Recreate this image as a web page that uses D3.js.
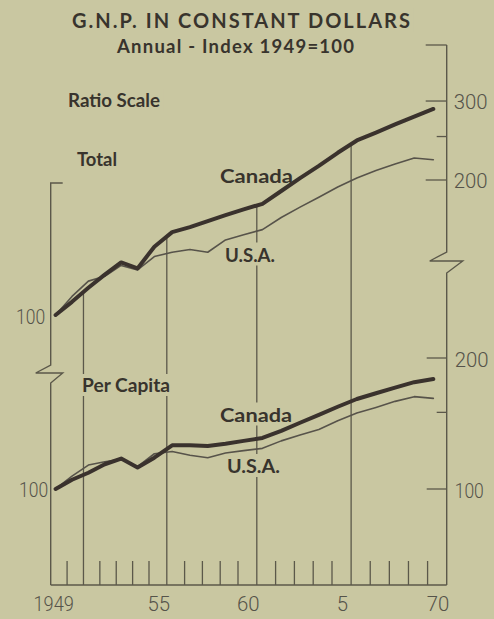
<!DOCTYPE html>
<html><head><meta charset="utf-8">
<script src="https://cdn.jsdelivr.net/npm/d3@7"></script>
<style>
html,body{margin:0;padding:0;background:#c9c7a1;}
svg{display:block}
</style>
</head><body>
<svg id="chart" width="494" height="619"></svg>
<script>
// ---------------- data ----------------
const years = d3.range(1949, 1971);
const canadaTotal     = [100,107,115,123,131,127,142,153,157,162,167,172,177,189,202,215,230,245,255,266,277,288];
const usaTotal        = [100,110,119,122,129,126,135,138,140,138,147,151,155,165,174,183,193,202,210,217,224,222];
const canadaPerCapita = [100,105,109,114,117.5,112,118,126,126,125.5,127,129,131,136,142,148,154.5,161,166,171,176,179];
const usaPerCapita    = [100,107,113.5,115.5,117,112.5,120.5,122,119.5,118,121,122.5,124,129,133,137,143.5,149.5,154,159,163,161.5];

const totalRightTicks = [400, 300, 250, 200];
const totalRightLabels = [300, 200];
const perCapitaRightTicks = [200, 150, 100];
const perCapitaRightLabels = [200, 100];
const leftLabelValue = 100;
const gridYears = [1951, 1956, 1961, 1966];
const tickYears = d3.range(1950, 1971);
const xLabelYears = [1949, 1955, 1960, 1965, 1970];
const xLabelTexts = ["1949", "55", "60", "5", "70"];

// ---------------- style ----------------
const BG = "#c9c7a1";
const INK = "#38342d";
const AXIS = "#5b584a";
const NUM = "#55534a";
const BOLD = "Lato, 'Open Sans', sans-serif";
const NUMF = "Roboto, 'Liberation Sans', sans-serif";

const svg = d3.select("#chart");
svg.append("rect").attr("width", 494).attr("height", 619).attr("fill", BG);

// ---------------- scales ----------------
const x = d3.scaleLinear().domain([1949, 1955, 1960, 1965, 1971]).range([50.7, 149, 238, 332, 446.7]);
const pos = 0.3; // position of an annual value inside its year
const yTop = d3.scaleLog().domain([100, 400]).range([315, 45]);
const yBot = d3.scaleLog().domain([100, 200]).range([489, 358]);

const xLeft = x(1949), xRight = x(1971);
const yBase = 585;

// ---------------- axes frame ----------------
const g = svg.append("g");
g.append("line").attr("x1", xLeft).attr("x2", xRight).attr("y1", yBase).attr("y2", yBase)
  .attr("stroke", AXIS).attr("stroke-width", 1.4);
g.selectAll(".xt").data(tickYears.filter(d => !gridYears.includes(d))).join("line")
  .attr("x1", d => x(d)).attr("x2", d => x(d)).attr("y1", yBase - 24).attr("y2", yBase)
  .attr("stroke", AXIS).attr("stroke-width", 1.3);

// vertical grid lines from Canada total line to base
const canadaTopY = d3.scaleLinear().domain(years.map(d => d + pos)).range(canadaTotal.map(v => yTop(v)));
g.selectAll(".grid").data(gridYears).join("line")
  .attr("x1", d => x(d)).attr("x2", d => x(d))
  .attr("y1", d => canadaTopY(d)).attr("y2", yBase)
  .attr("stroke", AXIS).attr("stroke-width", 1.3);

// right axis with break
const rBreakTop = 252, rBreakBot = 273;
g.append("path")
  .attr("d", `M${xRight},${yTop(400)} V${rBreakTop} L${xRight-17},${rBreakTop+9} H${xRight+16} L${xRight},${rBreakBot} V${yBase}`)
  .attr("fill", "none").attr("stroke", AXIS).attr("stroke-width", 1.4);
// left axis with break
const lBreakTop = 365, lBreakBot = 383;
g.append("path")
  .attr("d", `M${xLeft+12},${yTop(200)+3} H${xLeft} V${lBreakTop} L${xLeft-15},${lBreakTop+8} H${xLeft+12} L${xLeft},${lBreakBot} V${yBase}`)
  .attr("fill", "none").attr("stroke", AXIS).attr("stroke-width", 1.4);

// right ticks
const majorT = v => [100, 200, 300, 400].includes(v);
g.selectAll(".rtt").data(totalRightTicks).join("line")
  .attr("x1", d => xRight - (majorT(d) ? 21 : 10)).attr("x2", xRight)
  .attr("y1", d => yTop(d)).attr("y2", d => yTop(d))
  .attr("stroke", AXIS).attr("stroke-width", 1.3);
g.selectAll(".rbt").data(perCapitaRightTicks).join("line")
  .attr("x1", d => xRight - (majorT(d) ? 20 : 10)).attr("x2", xRight)
  .attr("y1", d => yBot(d)).attr("y2", d => yBot(d))
  .attr("stroke", AXIS).attr("stroke-width", 1.3);

// numeric labels: light, narrow figures
const digitW = ch => ch === "1" ? 6.5 : 11.3;
const numWidth = s => d3.sum(String(s).split(""), digitW);
function num(sel) {
  sel.attr("font-family", NUMF).attr("font-weight", 300).attr("font-size", 21).attr("fill", NUM)
    .attr("textLength", d => numWidth(d)).attr("lengthAdjust", "spacingAndGlyphs");
}
g.selectAll(".rtl").data(totalRightLabels).join("text")
  .attr("x", xRight + 7).attr("y", d => yTop(d) + 8).text(d => d).call(num);
g.selectAll(".rbl").data(perCapitaRightLabels).join("text")
  .attr("x", xRight + 8).attr("y", d => yBot(d) + 9).text(d => d).call(num);
g.selectAll(".ll1").data([leftLabelValue]).join("text")
  .attr("x", 16).attr("y", yTop(leftLabelValue) + 9).text(d => d).call(num);
g.selectAll(".ll2").data([leftLabelValue]).join("text")
  .attr("x", 19).attr("y", yBot(leftLabelValue) + 8).text(d => d).call(num);
g.selectAll(".xl").data(xLabelTexts).join("text")
  .attr("x", (d, i) => i === 0 ? x(xLabelYears[i]) + 3 : x(xLabelYears[i] + 0.55)).attr("y", 611)
  .attr("text-anchor", "middle").text(d => d).call(num);

// ---------------- titles & labels ----------------
function label(txt, x0, yb, size, width, adjust) {
  const t = svg.append("text").attr("x", x0).attr("y", yb)
    .attr("font-family", BOLD).attr("font-weight", 700).attr("font-size", size)
    .attr("fill", INK).text(txt);
  if (width) t.attr("textLength", width).attr("lengthAdjust", adjust || "spacingAndGlyphs");
  const b = t.node().getBBox();
  svg.insert("rect", () => t.node())
    .attr("x", b.x - 3).attr("y", b.y).attr("width", b.width + 6).attr("height", b.height)
    .attr("fill", BG);
  return t;
}
label("G.N.P. IN CONSTANT DOLLARS", 72, 28, 20, 338, "spacing");
label("Annual - Index 1949=100", 117, 52.5, 18.5, 237, "spacing");
label("Ratio Scale", 68, 107, 18.5, 92);
label("Total", 77, 165.5, 18.5, 40);
label("Canada", 220, 183, 19, 73);
label("U.S.A.", 225, 261.5, 19, 50);
label("Per Capita", 82, 392, 18.5, 88);
label("Canada", 220, 421.5, 19, 72);
label("U.S.A.", 227, 473, 19, 53);

// ---------------- series ----------------
const lineTop = d3.line().x((d, i) => x(years[i] + pos)).y(d => yTop(d));
const lineBot = d3.line().x((d, i) => x(years[i] + pos)).y(d => yBot(d));
const lines = svg.append("g").attr("fill", "none").attr("stroke-linejoin", "round").attr("stroke-linecap", "round");
lines.append("path").attr("d", lineTop(usaTotal)).attr("stroke", "#57534a").attr("stroke-width", 1.6);
lines.append("path").attr("d", lineTop(canadaTotal)).attr("stroke", "#3a322d").attr("stroke-width", 4);
lines.append("path").attr("d", lineBot(usaPerCapita)).attr("stroke", "#57534a").attr("stroke-width", 1.6);
lines.append("path").attr("d", lineBot(canadaPerCapita)).attr("stroke", "#3a322d").attr("stroke-width", 4);
</script>
</body></html>
